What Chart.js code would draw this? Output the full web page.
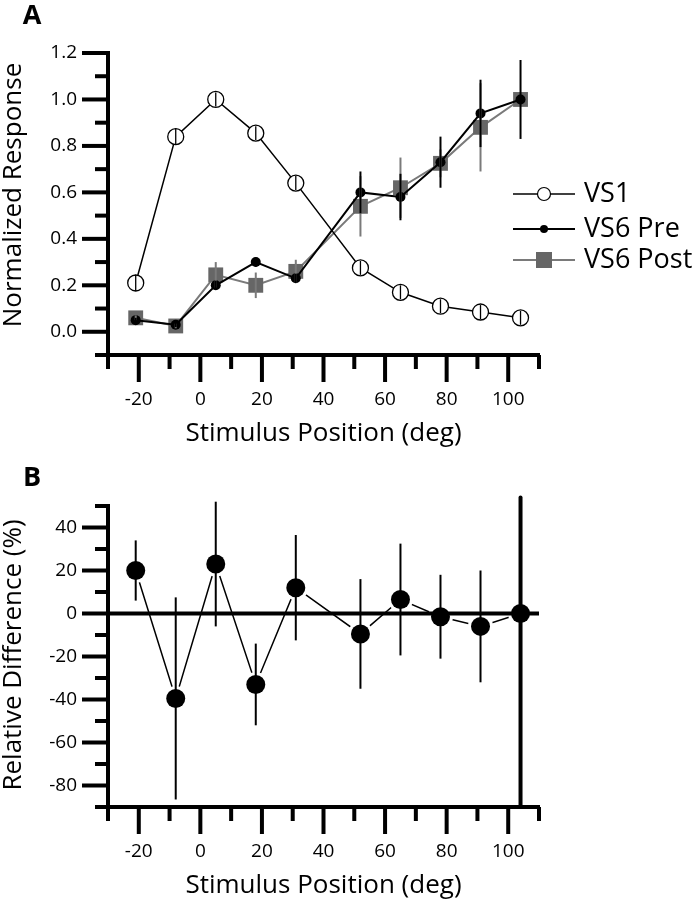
<!DOCTYPE html>
<html>
<head>
<meta charset="utf-8">
<script src="https://cdn.jsdelivr.net/npm/chart.js@4.4.1/dist/chart.umd.min.js"></script>
<style>
  body { margin: 0; background: #fff; }
  canvas { position: absolute; left: 0; }
  #chartA { top: 0; }
  #chartB { top: 460px; }
</style>
</head>
<body>
<canvas id="chartA" width="699" height="460"></canvas>
<canvas id="chartB" width="699" height="439"></canvas>
<script>
// Stimulus positions (deg), shared by both panels
const xPositions = [-21, -8, 5, 18, 31, 52, 65, 78, 91, 104];

// Panel A - normalized responses
const vs1Values = [0.21, 0.84, 1.0, 0.855, 0.64, 0.275, 0.17, 0.11, 0.085, 0.06];
const vs1Errors = [0.035, 0.035, 0.03, 0.03, 0.03, 0.03, 0.03, 0.03, 0.03, 0.03];
const preValues = [0.05, 0.03, 0.20, 0.30, 0.23, 0.60, 0.58, 0.73, 0.94, 1.0];
const preErrors = [0.01, 0.01, 0.02, 0.02, 0.02, 0.09, 0.10, 0.11, 0.145, 0.17];
const postValues = [0.06, 0.025, 0.245, 0.20, 0.26, 0.54, 0.62, 0.725, 0.88, 1.0];
const postErrors = [0.01, 0.01, 0.055, 0.055, 0.05, 0.13, 0.13, 0.06, 0.19, 0.0];

// Panel B - relative difference (%)
const diffValues = [20, -39.5, 23, -33, 12, -9.5, 6.5, -1.5, -6, 0];
const diffErrors = [14, 47, 29, 19, 24.5, 25.5, 26, 19.5, 26, 0];
const zeroLine = [{x: -30, y: 0}, {x: 110, y: 0}];
const markerLine = [{x: 104, y: -90}, {x: 104, y: 54}];

const FONT = "'Open Sans', 'DejaVu Sans', sans-serif";
Chart.defaults.font.family = FONT;
Chart.defaults.color = '#000';

function toPoints(ys) {
  return xPositions.map((x, i) => ({x: x, y: ys[i]}));
}

// Draws vertical error bars for every dataset that has errorBars
const errorBarPlugin = {
  id: 'errorBars',
  afterDatasetsDraw(chart) {
    const ctx = chart.ctx;
    const yScale = chart.scales.y;
    for (let d = chart.data.datasets.length - 1; d >= 0; d--) {
      const ds = chart.data.datasets[d];
      if (!ds.errorBars) continue;
      const meta = chart.getDatasetMeta(d);
      ctx.save();
      ctx.strokeStyle = ds.errorColor || '#000';
      ctx.lineWidth = ds.errorWidth || 2;
      meta.data.forEach((pt, i) => {
        const err = ds.errorBars[i];
        if (!err) return;
        const v = ds.data[i].y;
        ctx.beginPath();
        ctx.moveTo(pt.x, yScale.getPixelForValue(v + err));
        ctx.lineTo(pt.x, yScale.getPixelForValue(v - err));
        ctx.stroke();
      });
      ctx.restore();
    }
  }
};

// Outward major/minor ticks, axis titles and panel letter
function framePlugin(cfg) {
  return {
    id: 'frame',
    afterDraw(chart) {
      const ctx = chart.ctx;
      const area = chart.chartArea;
      const xs = chart.scales.x;
      const ys = chart.scales.y;
      ctx.save();
      ctx.fillStyle = '#000';
      ys.ticks.forEach(t => {
        const py = ys.getPixelForValue(t.value);
        const len = t.label !== '' ? 26 : 13;
        ctx.fillRect(area.left - len, py - 2, len, 4);
      });
      xs.ticks.forEach(t => {
        const px = xs.getPixelForValue(t.value);
        const len = t.label !== '' ? 27 : 14;
        ctx.fillRect(px - 2, area.bottom, 4, len);
      });

      ctx.textAlign = 'center';
      ctx.textBaseline = 'middle';
      ctx.font = '26px ' + FONT;
      ctx.fillText(cfg.xTitle, (area.left + area.right) / 2, area.bottom + 79);
      ctx.save();
      ctx.translate(14, cfg.yTitleCenter);
      ctx.rotate(-Math.PI / 2);
      ctx.fillText(cfg.yTitle, 0, 0);
      ctx.restore();

      ctx.font = 'bold 27px ' + FONT;
      ctx.fillText(cfg.letter, 32, cfg.letterY);
      ctx.restore();
    }
  };
}

// Legend for panel A, drawn to the right of the plot
const legendPlugin = {
  id: 'sideLegend',
  afterDraw(chart) {
    const ctx = chart.ctx;
    const rows = [
      {label: 'VS1', y: 194, line: '#000', lw: 1.5},
      {label: 'VS6 Pre', y: 229, line: '#000', lw: 2},
      {label: 'VS6 Post', y: 260, line: '#7a7a7a', lw: 2}
    ];
    ctx.save();
    rows.forEach((r, i) => {
      ctx.strokeStyle = r.line;
      ctx.lineWidth = r.lw;
      ctx.beginPath();
      ctx.moveTo(513, r.y);
      ctx.lineTo(575, r.y);
      ctx.stroke();
      if (i === 0) {
        ctx.beginPath();
        ctx.arc(544, r.y, 6.5, 0, Math.PI * 2);
        ctx.fillStyle = '#fff';
        ctx.fill();
        ctx.lineWidth = 1.2;
        ctx.strokeStyle = '#000';
        ctx.stroke();
      } else if (i === 1) {
        ctx.beginPath();
        ctx.arc(544, r.y, 4, 0, Math.PI * 2);
        ctx.fillStyle = '#000';
        ctx.fill();
      } else {
        ctx.fillStyle = '#666';
        ctx.fillRect(536, r.y - 8, 16, 16);
      }
      ctx.fillStyle = '#000';
      ctx.font = '27px ' + FONT;
      ctx.textAlign = 'left';
      ctx.textBaseline = 'middle';
      ctx.fillText(r.label, 584, r.y);
    });
    ctx.restore();
  }
};

function axes(yMin, yMax, yStep, yLabel, xHeight) {
  return {
    x: {
      type: 'linear', min: -30, max: 110,
      grid: {display: false, drawTicks: false},
      border: {display: true, width: 4, color: '#000'},
      ticks: {
        stepSize: 10, padding: 33, font: {size: 19},
        autoSkip: false, maxRotation: 0, minRotation: 0,
        callback: v => (v % 20 === 0 ? String(v) : '')
      },
      afterFit: s => { s.height = xHeight; }
    },
    y: {
      type: 'linear', min: yMin, max: yMax,
      grid: {display: false, drawTicks: false},
      border: {display: true, width: 4, color: '#000'},
      ticks: {
        stepSize: yStep, padding: 31, font: {size: 19},
        autoSkip: false, callback: yLabel
      },
      afterFit: s => { s.width = 108; }
    }
  };
}

const commonOpts = {
  responsive: false,
  animation: false,
  events: [],
  plugins: {legend: {display: false}, tooltip: {enabled: false}}
};

new Chart(document.getElementById('chartA'), {
  type: 'scatter',
  data: {
    datasets: [
      {
        label: 'VS1', data: toPoints(vs1Values), showLine: true, order: 0,
        borderColor: '#000', borderWidth: 1.5,
        pointRadius: 8, pointBackgroundColor: '#fff', pointBorderColor: '#000', pointBorderWidth: 1.3,
        errorBars: vs1Errors, errorColor: '#000', errorWidth: 1.3
      },
      {
        label: 'VS6 Pre', data: toPoints(preValues), showLine: true, order: 1,
        borderColor: '#000', borderWidth: 2,
        pointRadius: 5, pointBackgroundColor: '#000', pointBorderWidth: 0,
        errorBars: preErrors, errorColor: '#000', errorWidth: 2
      },
      {
        label: 'VS6 Post', data: toPoints(postValues), showLine: true, order: 2,
        borderColor: '#7a7a7a', borderWidth: 2,
        pointStyle: 'rect', pointRadius: 10.5, pointBackgroundColor: '#666', pointBorderWidth: 0,
        errorBars: postErrors, errorColor: '#7a7a7a', errorWidth: 2
      }
    ]
  },
  options: Object.assign({}, commonOpts, {
    layout: {padding: {top: 53, right: 160, left: 0, bottom: 0}},
    scales: axes(-0.1, 1.2, 0.1, v => {
      const k = Math.round(v * 10);
      return k % 2 === 0 ? (k / 10).toFixed(1) : '';
    }, 105)
  }),
  plugins: [errorBarPlugin, legendPlugin,
    framePlugin({xTitle: 'Stimulus Position (deg)', yTitle: 'Normalized Response', yTitleCenter: 195, letter: 'A', letterY: 16})]
});

new Chart(document.getElementById('chartB'), {
  type: 'scatter',
  data: {
    datasets: [
      {
        label: 'difference', data: toPoints(diffValues), order: 0,
        pointRadius: 9.5, pointBackgroundColor: '#000', pointBorderWidth: 0,
        errorBars: diffErrors, errorColor: '#000', errorWidth: 2
      },
      {
        label: 'zero', data: zeroLine, showLine: true, order: 1,
        borderColor: '#000', borderWidth: 4, pointRadius: 0
      },
      {
        label: 'marker', data: markerLine, showLine: true, order: 1, clip: false,
        borderColor: '#000', borderWidth: 4, pointRadius: 0, borderCapStyle: 'round'
      },
      {
        label: 'halo', data: toPoints(diffValues), order: 2,
        pointRadius: 12.5, pointBackgroundColor: '#fff', pointBorderWidth: 0
      },
      {
        label: 'connect', data: toPoints(diffValues), showLine: true, order: 3,
        borderColor: '#000', borderWidth: 1.5, pointRadius: 0
      }
    ]
  },
  options: Object.assign({}, commonOpts, {
    layout: {padding: {top: 46, right: 160, left: 0, bottom: 0}},
    scales: axes(-90, 50, 10, v => (v % 20 === 0 ? String(v) : ''), 92)
  }),
  plugins: [errorBarPlugin,
    framePlugin({xTitle: 'Stimulus Position (deg)', yTitle: 'Relative Difference (%)', yTitleCenter: 195, letter: 'B', letterY: 18})]
});
</script>
</body>
</html>
